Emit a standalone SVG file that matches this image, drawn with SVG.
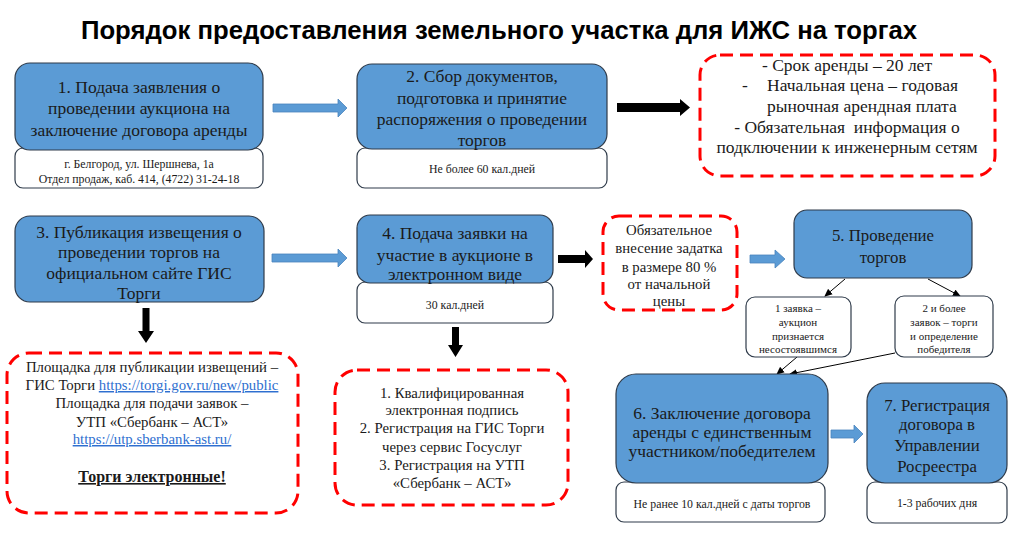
<svg xmlns="http://www.w3.org/2000/svg" width="1013" height="543" viewBox="0 0 1013 543">
<style>
.blue{fill:#5B9BD5;stroke:#2F3B4A;stroke-width:1.2}
.white{fill:#FFFFFF;stroke:#2F3B4A;stroke-width:1.2}
.red{fill:#FFFFFF;stroke:#FF0000;stroke-width:3;stroke-dasharray:13 7}
.barr{fill:#5B9BD5;stroke:#4A84BC;stroke-width:0.8}
.karr{fill:#000000}
.t{font-family:"Liberation Serif","Times New Roman",serif;fill:#1A1A1A;text-anchor:middle}
.big{font-size:17.5px}
.b2{font-size:16.8px}
.mid{font-size:14.8px}
.sm{font-size:11.8px}
.xs{font-size:11px}
.link{fill:#2E6FD0;text-decoration:underline}
.thin{stroke:#000;stroke-width:1;fill:none}
</style>
<defs>
<marker id="ah" markerWidth="8" markerHeight="8" refX="7" refY="4" orient="auto" markerUnits="userSpaceOnUse">
<path d="M0,0.5 L8,4 L0,7.5 Z" fill="#000"/>
</marker>
</defs>
<rect width="1013" height="543" fill="#FFFFFF"/>
<text x="499" y="39" style="font-family:'Liberation Sans',Arial,sans-serif;font-weight:bold;font-size:25.7px;text-anchor:middle;fill:#000">Порядок предоставления земельного участка для ИЖС на торгах</text>

<g id="connectors">
<path class="barr" d="M273,104 H338 V99 L347,108 L338,117 V112 H273 Z"/>
<path class="karr" d="M617,103 H680 V99 L690,107.5 L680,116 V112 H617 Z"/>
<path class="barr" d="M272,254 H338 V249 L347,258 L338,267 V262 H272 Z"/>
<path class="karr" d="M558,255 H585 V250 L593,259 L585,268 V263 H558 Z"/>
<path class="barr" d="M750,255 H775 V250 L785,259 L775,268 V263 H750 Z"/>
<path class="barr" d="M831,430 H854 V425 L863,434 L854,443 V438 H831 Z"/>
<path class="karr" d="M142.5,308 H149.5 V331 H154 L146,343 L138,331 H142.5 Z"/>
<path class="karr" d="M452,327 H459 V345 H463 L455.5,357 L448,345 H452 Z"/>
<line class="thin" x1="845" y1="279" x2="825" y2="296" marker-end="url(#ah)"/>
<line class="thin" x1="928" y1="279" x2="960" y2="296" marker-end="url(#ah)"/>
<line class="thin" x1="797" y1="357" x2="777" y2="374" marker-end="url(#ah)"/>
<line class="thin" x1="895" y1="353" x2="790" y2="374" marker-end="url(#ah)"/>
</g>

<g id="node1">
<rect class="white" x="15" y="148" width="248" height="40" rx="8"/>
<rect class="blue" x="15" y="63" width="248" height="87" rx="15"/>
<text class="t big" x="139"><tspan x="139" y="93">1. Подача заявления о</tspan><tspan x="139" y="114">проведении аукциона на</tspan><tspan x="139" y="136">заключение договора аренды</tspan></text>
<text class="t sm" x="139"><tspan x="139" y="167.5">г. Белгород, ул. Шершнева, 1а</tspan><tspan x="139" y="182.5">Отдел продаж, каб. 414, (4722) 31-24-18</tspan></text>
</g>

<g id="node2">
<rect class="white" x="357" y="148" width="250" height="40" rx="8"/>
<rect class="blue" x="357" y="64" width="250" height="85" rx="15"/>
<text class="t big" x="482"><tspan x="482" y="82">2. Сбор документов,</tspan><tspan x="482" y="104">подготовка и принятие</tspan><tspan x="482" y="125">распоряжения о проведении</tspan><tspan x="482" y="146">торгов</tspan></text>
<text class="t sm" x="482" y="173">Не более 60 кал.дней</text>
</g>

<g id="info">
<rect class="red" x="700" y="55" width="295" height="121" rx="20"/>
<text class="t big" x="847" y="71">- Срок аренды – 20 лет</text>
<text class="t big" x="745" y="91">-</text>
<text class="t big" x="767" y="91" style="text-anchor:start">Начальная цена – годовая</text>
<text class="t big" x="767" y="112" style="text-anchor:start">рыночная арендная плата</text>
<text class="t big" x="847" y="133" style="white-space:pre">- Обязательная  информация о</text>
<text class="t big" x="847" y="153">подключении к инженерным сетям</text>
</g>

<g id="node3">
<rect class="blue" x="15" y="216" width="249" height="86" rx="15"/>
<text class="t big" x="139"><tspan x="139" y="238">3. Публикация извещения о</tspan><tspan x="139" y="258">проведении торгов на</tspan><tspan x="139" y="279">официальном сайте ГИС</tspan><tspan x="139" y="299">Торги</tspan></text>
</g>

<g id="node4">
<rect class="white" x="357" y="282" width="196" height="41" rx="8"/>
<rect class="blue" x="357" y="215" width="196" height="68" rx="13"/>
<text class="t big" x="455"><tspan x="455" y="239">4. Подача заявки на</tspan><tspan x="455" y="261">участие в аукционе в</tspan><tspan x="455" y="280">электронном виде</tspan></text>
<text class="t sm" x="455" y="309">30 кал.дней</text>
</g>

<g id="deposit">
<rect class="red" x="603" y="216" width="134" height="94" rx="16"/>
<text class="t mid" x="669"><tspan x="669" y="235">Обязательное</tspan><tspan x="669" y="253">внесение задатка</tspan><tspan x="669" y="272">в размере 80 %</tspan><tspan x="669" y="289">от начальной</tspan><tspan x="669" y="306">цены</tspan></text>
</g>

<g id="node5">
<rect class="blue" x="794" y="210" width="178" height="68" rx="13"/>
<text class="t b2" x="883"><tspan x="883" y="241">5. Проведение</tspan><tspan x="883" y="263">торгов</tspan></text>
</g>

<g id="single">
<rect class="white" x="746" y="297" width="105" height="60" rx="9"/>
<text class="t xs" x="798"><tspan x="798" y="312">1 заявка –</tspan><tspan x="798" y="326">аукцион</tspan><tspan x="798" y="340">признается</tspan><tspan x="798" y="353">несостоявшимся</tspan></text>
</g>

<g id="multi">
<rect class="white" x="895" y="296" width="98" height="61" rx="9"/>
<text class="t xs" x="944"><tspan x="944" y="312">2 и более</tspan><tspan x="944" y="326">заявок – торги</tspan><tspan x="944" y="340">и определение</tspan><tspan x="944" y="353">победителя</tspan></text>
</g>

<g id="platforms">
<rect class="red" x="7" y="353" width="291" height="160" rx="22"/>
<text class="t mid" x="152"><tspan x="152" y="372">Площадка для публикации извещений –</tspan><tspan x="152" y="390">ГИС Торги <tspan class="link">https://torgi.gov.ru/new/public</tspan></tspan><tspan x="152" y="408">Площадка для подачи заявок –</tspan><tspan x="152" y="427">УТП «Сбербанк – АСТ»</tspan><tspan x="152" y="444" class="link">https://utp.sberbank-ast.ru/</tspan></text>
<text class="t" x="152" y="482" style="font-size:16px;font-weight:bold;text-decoration:underline">Торги электронные!</text>
</g>

<g id="requirements">
<rect class="red" x="335" y="370" width="233" height="135" rx="22"/>
<text class="t mid" x="452"><tspan x="452" y="398">1. Квалифицированная</tspan><tspan x="452" y="415">электронная подпись</tspan><tspan x="452" y="433">2. Регистрация на ГИС Торги</tspan><tspan x="452" y="452">через сервис Госуслуг</tspan><tspan x="452" y="470">3. Регистрация на УТП</tspan><tspan x="452" y="488">«Сбербанк – АСТ»</tspan></text>
</g>

<g id="node6">
<rect class="white" x="616" y="482" width="209" height="40" rx="8"/>
<rect class="blue" x="616" y="374" width="212" height="109" rx="20"/>
<text class="t big" x="722"><tspan x="722" y="419">6. Заключение договора</tspan><tspan x="722" y="438">аренды с единственным</tspan><tspan x="722" y="457">участником/победителем</tspan></text>
<text class="t sm" x="722" y="508">Не ранее 10 кал.дней с даты торгов</text>
</g>

<g id="node7">
<rect class="white" x="867" y="482" width="140" height="41" rx="8"/>
<rect class="blue" x="867" y="383" width="140" height="100" rx="18"/>
<text class="t b2" x="937"><tspan x="937" y="411">7. Регистрация</tspan><tspan x="937" y="430">договора в</tspan><tspan x="937" y="451">Управлении</tspan><tspan x="937" y="472">Росреестра</tspan></text>
<text class="t sm" x="937" y="507">1-3 рабочих дня</text>
</g>
</svg>
